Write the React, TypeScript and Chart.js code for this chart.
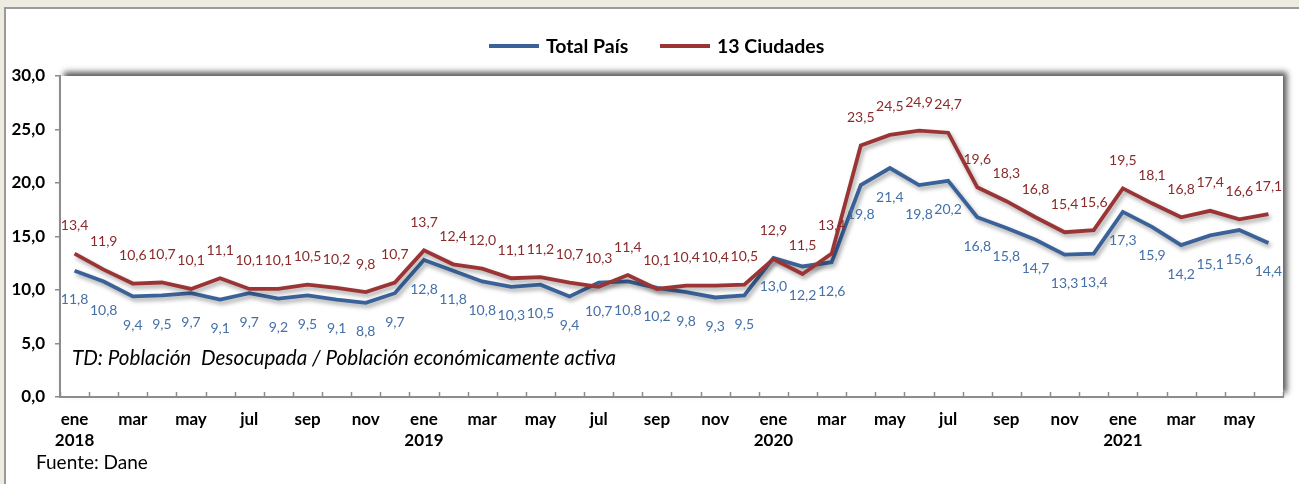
import React, { useEffect, useRef } from 'react';
import { Chart, registerables } from 'chart.js';

Chart.register(...registerables);

const monthNames = ['ene', 'feb', 'mar', 'abr', 'may', 'jun', 'jul', 'ago', 'sep', 'oct', 'nov', 'dic'];
const yearNames = ['2018', '2019', '2020', '2021'];
const monthsIn2021 = 6;

const categories: string[] = [];
yearNames.forEach((y, yi) => {
  const n = yi === yearNames.length - 1 ? monthsIn2021 : 12;
  for (let m = 0; m < n; m++) categories.push(monthNames[m] + ' ' + y);
});

const totalPais = [
  11.8, 10.8, 9.4, 9.5, 9.7, 9.1, 9.7, 9.2, 9.5, 9.1, 8.8, 9.7,
  12.8, 11.8, 10.8, 10.3, 10.5, 9.4, 10.7, 10.8, 10.2, 9.8, 9.3, 9.5,
  13.0, 12.2, 12.6, 19.8, 21.4, 19.8, 20.2, 16.8, 15.8, 14.7, 13.3, 13.4,
  17.3, 15.9, 14.2, 15.1, 15.6, 14.4,
];

const ciudades13 = [
  13.4, 11.9, 10.6, 10.7, 10.1, 11.1, 10.1, 10.1, 10.5, 10.2, 9.8, 10.7,
  13.7, 12.4, 12.0, 11.1, 11.2, 10.7, 10.3, 11.4, 10.1, 10.4, 10.4, 10.5,
  12.9, 11.5, 13.4, 23.5, 24.5, 24.9, 24.7, 19.6, 18.3, 16.8, 15.4, 15.6,
  19.5, 18.1, 16.8, 17.4, 16.6, 17.1,
];

const yTicks = [0, 5, 10, 15, 20, 25, 30];
const seriesNames = ['Total País', '13 Ciudades'];
const noteText = 'TD: Población  Desocupada / Población económicamente activa';
const sourceText = 'Fuente: Dane';

const BLUE = '#3A6298';
const RED = '#9B3535';
const BLUE_TXT = '#4470A8';
const RED_TXT = '#8A2B2B';
const FONT = 'Lato, "Noto Sans", sans-serif';

const fmt = (v: number) => v.toFixed(1).replace('.', ',');

const framePlugin = {
  id: 'frame',
  beforeDraw(chart: any) {
    const { ctx, width, height, chartArea: a } = chart;
    ctx.save();
    ctx.fillStyle = '#EEEBE0';
    ctx.fillRect(0, 0, width, height);
    ctx.fillStyle = '#9A9A9A';
    ctx.fillRect(4, 7, width, height);
    ctx.fillStyle = '#FFFFFF';
    ctx.fillRect(6, 9, width, height);
    ctx.shadowColor = 'rgba(0,0,0,0.65)';
    ctx.shadowBlur = 6;
    ctx.shadowOffsetX = 4;
    ctx.shadowOffsetY = -4;
    ctx.fillRect(a.left, a.top, a.right - a.left, a.bottom - a.top);
    ctx.restore();

    // legend
    ctx.save();
    ctx.font = 'bold 19.5px ' + FONT;
    ctx.textBaseline = 'middle';
    ctx.textAlign = 'left';
    const ly = 46;
    const items = [
      { color: BLUE, text: seriesNames[0], x: 489 },
      { color: RED, text: seriesNames[1], x: 660 },
    ];
    items.forEach((it) => {
      ctx.strokeStyle = it.color;
      ctx.lineWidth = 4;
      ctx.beginPath();
      ctx.moveTo(it.x, ly);
      ctx.lineTo(it.x + 50, ly);
      ctx.stroke();
      ctx.fillStyle = '#000';
      ctx.fillText(it.text, it.x + 57, ly + 1);
    });
    // source
    ctx.font = '19px ' + FONT;
    ctx.fillStyle = '#000';
    ctx.fillText(sourceText, 36, 463);
    ctx.restore();
  },
  beforeDatasetsDraw(chart: any) {
    const { ctx, chartArea: a } = chart;
    const xs = chart.scales.x;
    ctx.save();
    ctx.font = 'italic 20.6px ' + FONT;
    ctx.fillStyle = '#000';
    ctx.textBaseline = 'middle';
    ctx.textAlign = 'left';
    ctx.fillText(noteText, a.left + 12, 358);
    // x tick marks inside
    const step = xs.getPixelForValue(1) - xs.getPixelForValue(0);
    ctx.strokeStyle = '#8C8C8C';
    ctx.lineWidth = 1.5;
    for (let i = 0; i <= categories.length; i++) {
      const x = Math.round(xs.getPixelForValue(i) - step / 2) + 0.5;
      ctx.beginPath();
      ctx.moveTo(x, a.bottom);
      ctx.lineTo(x, a.bottom - 5);
      ctx.stroke();
    }
    ctx.restore();
  },
  beforeDatasetDraw(chart: any) {
    const ctx = chart.ctx;
    ctx.save();
    ctx.shadowColor = 'rgba(0,0,0,0.35)';
    ctx.shadowBlur = 4;
    ctx.shadowOffsetX = 2;
    ctx.shadowOffsetY = 3;
  },
  afterDatasetDraw(chart: any) {
    chart.ctx.restore();
  },
  afterDatasetsDraw(chart: any) {
    const { ctx } = chart;
    ctx.save();
    ctx.font = '14px ' + FONT;
    ctx.textAlign = 'center';
    ctx.textBaseline = 'middle';
    chart.data.datasets.forEach((ds: any, di: number) => {
      const meta = chart.getDatasetMeta(di);
      const below = di === 0;
      ctx.fillStyle = below ? BLUE_TXT : RED_TXT;
      meta.data.forEach((pt: any, i: number) => {
        ctx.fillText(fmt(ds.data[i]), pt.x, pt.y + (below ? 29 : -28));
      });
    });
    ctx.restore();
  },
};

export default function App() {
  const ref = useRef<HTMLCanvasElement | null>(null);
  useEffect(() => {
    if (!ref.current) return;
    const chart = new Chart(ref.current, {
      type: 'line',
      data: {
        labels: categories,
        datasets: [
          {
            label: seriesNames[0],
            data: totalPais,
            borderColor: BLUE,
            borderWidth: 3.8,
            pointRadius: 0,
            tension: 0,
            order: 1,
          },
          {
            label: seriesNames[1],
            data: ciudades13,
            borderColor: RED,
            borderWidth: 3.8,
            pointRadius: 0,
            tension: 0,
            order: 0,
          },
        ],
      },
      options: {
        animation: false,
        responsive: false,
        devicePixelRatio: 1,
        layout: { padding: { top: 76, right: 16, bottom: 27, left: 0 } },
        plugins: { legend: { display: false }, tooltip: { enabled: false }, title: { display: false } },
        scales: {
          x: {
            type: 'category',
            offset: true,
            afterFit: (s: any) => { s.height = 60; },
            grid: { display: true, drawOnChartArea: false, drawTicks: false, offset: true, color: 'rgba(0,0,0,0)' },
            border: { display: true, color: '#8C8C8C', width: 2 },
            ticks: {
              autoSkip: false,
              maxRotation: 0,
              padding: 12,
              color: '#000',
              font: { family: FONT, size: 17, weight: 'bold', lineHeight: 1.25 },
              callback: (_v: any, i: number) => {
                const m = i % 12;
                if (m % 2 !== 0) return '';
                const name = monthNames[m];
                if (m === 0) return [name, yearNames[Math.floor(i / 12)]];
                return name;
              },
            },
          },
          y: {
            min: yTicks[0],
            max: yTicks[yTicks.length - 1],
            afterFit: (s: any) => { s.width = 60; },
            afterBuildTicks: (s: any) => { s.ticks = yTicks.map((v) => ({ value: v })); },
            grid: { drawOnChartArea: false, drawTicks: true, tickLength: 5, color: '#8C8C8C', lineWidth: 1.5 },
            border: { display: true, color: '#8C8C8C', width: 2 },
            ticks: {
              padding: 10,
              color: '#000',
              font: { family: FONT, size: 17, weight: 'bold' },
              callback: (v: any) => fmt(Number(v)),
            },
          },
        },
      },
      plugins: [framePlugin],
    } as any);
    return () => chart.destroy();
  }, []);
  return (
    <div style={{ position: 'absolute', left: 0, top: 0, width: 1299, height: 484 }}>
      <canvas ref={ref} width={1299} height={484} style={{ width: 1299, height: 484, display: 'block' }} />
    </div>
  );
}
